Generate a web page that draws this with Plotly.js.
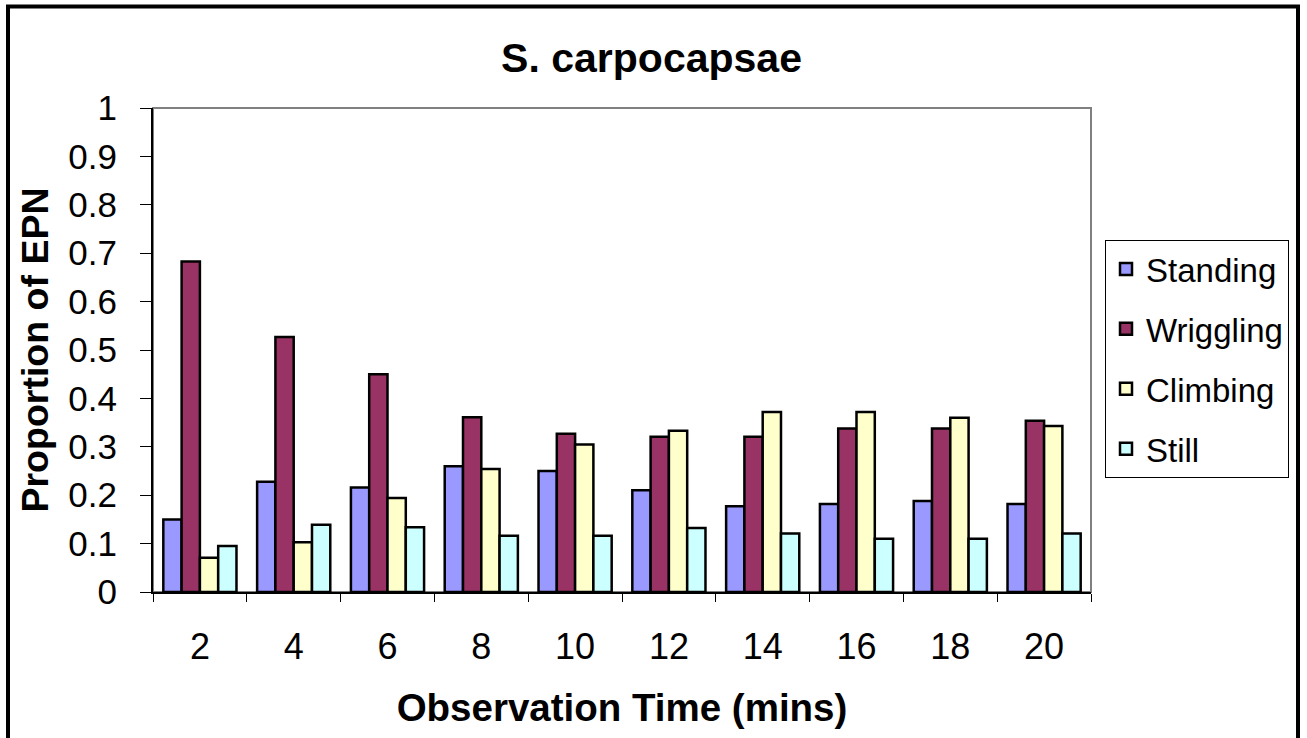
<!DOCTYPE html>
<html>
<head>
<meta charset="utf-8">
<script src="https://cdn.plot.ly/plotly-3.0.1.min.js"></script>
<style>
  html, body { margin: 0; padding: 0; background: #ffffff; }
  #chart { width: 1307px; height: 738px; }
</style>
</head>
<body>
<div id="chart"></div>
<script>
// Observation times (minutes)
const times = ['2', '4', '6', '8', '10', '12', '14', '16', '18', '20'];

// Proportion of EPN in each behaviour
const standing  = [0.150, 0.228, 0.216, 0.260, 0.250, 0.210, 0.177, 0.182, 0.188, 0.182];
const wriggling = [0.683, 0.527, 0.450, 0.361, 0.327, 0.321, 0.321, 0.338, 0.338, 0.354];
const climbing  = [0.071, 0.103, 0.194, 0.254, 0.305, 0.333, 0.372, 0.372, 0.360, 0.343];
const still     = [0.095, 0.139, 0.134, 0.116, 0.116, 0.132, 0.121, 0.110, 0.110, 0.121];

const seriesNames  = ['Standing', 'Wriggling', 'Climbing', 'Still'];
const seriesValues = [standing, wriggling, climbing, still];
const seriesColors = ['#9999FF', '#993366', '#FFFFCC', '#CCFFFF'];

const FONT = 'Liberation Sans, Arial, sans-serif';

const traces = seriesNames.map((name, i) => ({
  type: 'bar',
  name: name,
  x: times,
  y: seriesValues[i],
  legendgroup: name,
  marker: { color: seriesColors[i], line: { color: '#000000', width: 2.5 } }
}));

const layout = {
  width: 1307,
  height: 738,
  paper_bgcolor: '#ffffff',
  plot_bgcolor: '#ffffff',
  margin: { l: 153, r: 216, t: 108, b: 146, pad: 0 },
  font: { family: FONT, color: '#000000' },
  barmode: 'group',
  bargap: 0.22,
  bargroupgap: 0,
  title: {
    text: '<b>S. carpocapsae</b>',
    font: { family: FONT, size: 41, color: '#000000' },
    x: 0.4985, xref: 'container', xanchor: 'center',
    y: 1 - 58 / 738, yref: 'container', yanchor: 'middle'
  },
  xaxis: {
    type: 'category',
    tickson: 'boundaries',
    ticks: 'outside',
    ticklen: 8,
    tickwidth: 1,
    tickcolor: '#000000',
    ticklabelstandoff: 22,
    showline: true,
    linecolor: '#000000',
    linewidth: 2,
    showgrid: false,
    zeroline: false,
    tickfont: { family: FONT, size: 36, color: '#000000' },
    title: {
      text: '<b>Observation Time (mins)</b>',
      font: { family: FONT, size: 38.5, color: '#000000' },
      standoff: 28
    },
    automargin: false
  },
  yaxis: {
    range: [0, 1],
    dtick: 0.1,
    tick0: 0,
    ticks: 'outside',
    ticklen: 11,
    tickwidth: 1,
    tickcolor: '#000000',
    ticklabelstandoff: 16,
    showline: true,
    linecolor: '#000000',
    linewidth: 2,
    showgrid: false,
    zeroline: false,
    tickfont: { family: FONT, size: 35, color: '#000000' },
    title: {
      text: '<b>Proportion of EPN</b>',
      font: { family: FONT, size: 37.5, color: '#000000' },
      standoff: 8
    },
    automargin: false
  },
  showlegend: true,
  legend: {
    x: (1105 - 153) / 938,
    xanchor: 'left',
    y: (592 - 240) / 484,
    yanchor: 'top',
    bgcolor: '#ffffff',
    bordercolor: '#000000',
    borderwidth: 1,
    traceorder: 'grouped',
    tracegroupgap: 14,
    font: { family: FONT, size: 33, color: '#000000' }
  },
  shapes: [
    // plot area frame
    {
      type: 'rect', xref: 'paper', yref: 'paper',
      x0: 0, x1: 1, y0: 0, y1: 1,
      line: { color: '#808080', width: 2 },
      layer: 'below'
    },
    // outer chart border
    {
      type: 'rect', xref: 'paper', yref: 'paper',
      x0: (8 - 153) / 938, x1: (1298 - 153) / 938,
      y0: (592 - 760) / 484, y1: (592 - 6.5) / 484,
      line: { color: '#000000', width: 4 }
    }
  ]
};

Plotly.newPlot('chart', traces, layout, { staticPlot: true, displayModeBar: false });
</script>
</body>
</html>
